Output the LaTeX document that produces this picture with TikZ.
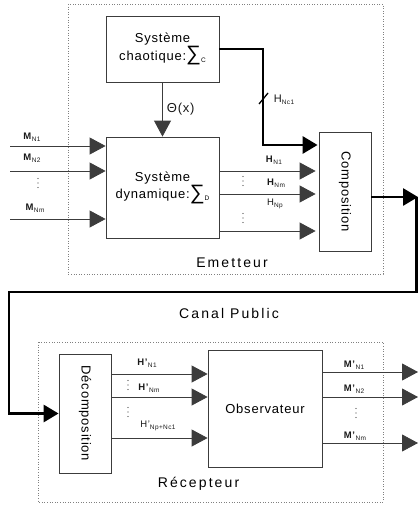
\documentclass[tikz,border=0pt]{standalone}
\usepackage{fontspec}
\setmainfont{Liberation Sans}[LetterSpace=6]
\newfontfamily\widefont{Liberation Sans}[LetterSpace=15]
\usetikzlibrary{arrows.meta,calc}
\definecolor{linegray}{HTML}{3C3C3C}
\definecolor{framegray}{HTML}{808080}

% indice en petit, un peu abaisse
\newcommand{\idx}[1]{\raisebox{-0.3ex}{\fontsize{6.5}{7}\selectfont #1}}
% grand symbole somme
\newcommand{\somme}{\raisebox{-0.05ex}{\scalebox{1.6}{∑}}}
% points de suspension verticaux
\newcommand{\points}[1]{\foreach \d in {-4.5,0,4.5} \fill[linegray] ($(#1)+(0,\d)$) circle (0.55pt);}

\begin{document}
\begin{tikzpicture}[x=1pt,y=-1pt,
  blk/.style={draw=linegray,line width=0.8pt,align=center,inner sep=0pt,
    font=\fontsize{13}{15}\selectfont},
  sig/.style={draw=linegray,line width=0.8pt,-{Triangle[length=16pt,width=17pt]}},
  bus/.style={draw=black,line width=2.8pt,-{Triangle[length=15pt,width=17pt]}},
  lbl/.style={inner sep=0pt,text=black!90,font=\fontsize{9.5}{11}\selectfont},
  big/.style={inner sep=0pt,font=\widefont\fontsize{14}{16}\selectfont},
  frame/.style={draw=framegray,dotted,line width=0.6pt}]
  \useasboundingbox (0,0) rectangle (419,508);

  % Cadres
  \draw[frame] (68,4) rectangle (383,274);
  \draw[frame] (38,342) rectangle (383,502);
  \node[big] (emet) at (232,263) {Emetteur};
  \node[big] (recep) at (198.5,484) {Récepteur};
  \node[big] (canal) at (229,313) {Canal Public};

  % Blocs
  \node[blk,minimum width=113pt,minimum height=66pt] (chao) at (162.5,49)
    {Système\\chaotique:\somme\idx{C}};
  \node[blk,minimum width=113pt,minimum height=101pt] (dyn) at (162.5,187.5)
    {Système\\dynamique:\somme\idx{D}};
  \node[blk,minimum width=52pt,minimum height=119pt,
    label={[rotate=-90,font=\fontsize{13}{15}\selectfont]center:Composition}] (comp) at (345,191.5) {};
  \node[blk,minimum width=52pt,minimum height=119pt,
    label={[rotate=-90,font=\fontsize{13}{15}\selectfont]center:Décomposition}] (decomp) at (85,413.5) {};
  \node[blk,minimum width=114pt,minimum height=117pt] (obs) at (265,408.5) {Observateur};

  % Entrees
  \foreach \y/\n in {146/1,171/2,219/3} {
    \coordinate (m\n) at (10,\y);
    \draw[sig] (m\n) -- (m\n -| dyn.west);
  }
  \node[lbl] (lm1) at (32,137) {\textbf{M}\idx{N1}};
  \node[lbl] (lm2) at (32,158) {\textbf{M}\idx{N2}};
  \node[lbl] (lm3) at (35,208) {\textbf{M}\idx{Nm}};
  \coordinate (dm) at (38,183);
  \points{dm}

  % Theta
  \draw[sig] (chao) -- (dyn) node[lbl,midway,right=4pt,font=\fontsize{13}{15}\selectfont] (theta) {Θ(x)};

  % Sorties vers la composition
  \foreach \y/\n in {171/1,194/2,231/3} {
    \coordinate (h\n) at (dyn.east |- 0,\y);
    \draw[sig,shorten >=3pt] (h\n) -- (h\n -| comp.west);
  }
  \node[lbl] (lh1) at (274,160) {\textbf{H}\idx{N1}};
  \node[lbl] (lh2) at (276,183) {\textbf{H}\idx{Nm}};
  \node[lbl] (lh3) at (275,204) {H\idx{Np}};
  \coordinate (dh1) at (243,181);
  \coordinate (dh2) at (243,218);
  \points{dh1}
  \points{dh2}

  % Bus chaotique
  \coordinate (hc) at (263,145);
  \draw[bus,shorten >=1pt] (chao.east) -| (hc) -- (hc -| comp.west);
  \draw[line width=1.3pt] (259,104) -- (268,93);
  \node[lbl,font=\fontsize{11}{13}\selectfont] (lhc) at (284,100) {H\idx{Nc1}};

  % Canal public
  \coordinate (r1) at (416.5,197);
  \coordinate (l1) at (9,292);
  \draw[bus] (comp.east |- r1) -- ($(r1)+(1.5,0)$);
  \draw[bus] (r1) |- (l1) |- (decomp.west);

  % Decomposition -> observateur
  \foreach \y/\n in {374/1,397/2,438/3} {
    \coordinate (g\n) at (decomp.east |- 0,\y);
    \draw[sig] (g\n) -- (g\n -| obs.west);
  }
  \node[lbl] (lg1) at (147,363) {\textbf{H’}\idx{N1}};
  \node[lbl] (lg2) at (149,388) {\textbf{H’}\idx{Nm}};
  \node[lbl] (lg3) at (158,426) {H’\idx{Np+Nc1}};
  \coordinate (dg1) at (128,385);
  \coordinate (dg2) at (128,412);
  \points{dg1}
  \points{dg2}

  % Sorties
  \foreach \y/\n in {372/1,397/2,443/3} {
    \coordinate (o\n) at (obs.east |- 0,\y);
    \draw[sig] (o\n) -- (418,\y);
  }
  \node[lbl] (lo1) at (354,365) {\textbf{M’}\idx{N1}};
  \node[lbl] (lo2) at (354,389) {\textbf{M’}\idx{N2}};
  \node[lbl] (lo3) at (355,436) {\textbf{M’}\idx{Nm}};
  \coordinate (do) at (356,413);
  \points{do}
\end{tikzpicture}
\end{document}
